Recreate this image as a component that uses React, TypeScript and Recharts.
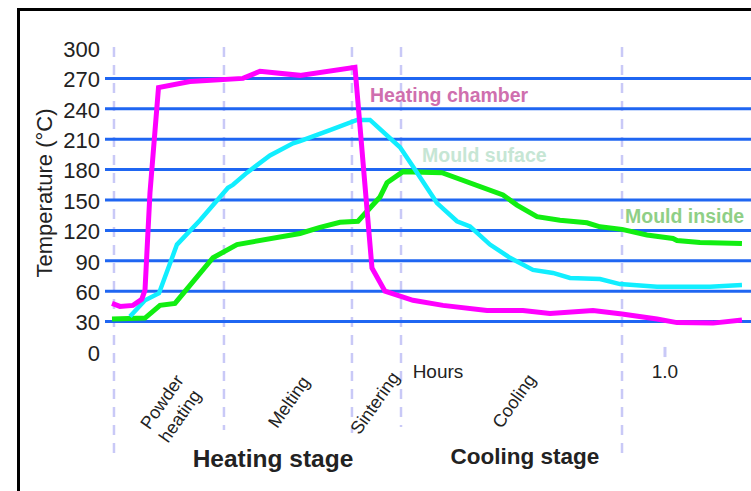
import React from 'react';
import { LineChart, Line, XAxis, YAxis, ReferenceLine } from 'recharts';

// ---- data (time in hours, temperature in °C) ----
const chamberTimes = [-0.0036, 0.0109, 0.0345, 0.0503, 0.0563, 0.0653, 0.0808, 0.1379, 0.2341, 0.265, 0.3376, 0.4374, 0.4682, 0.4918, 0.5426, 0.5971, 0.677, 0.7423, 0.7913, 0.8693, 0.922, 0.9855, 1.0218, 1.0871, 1.1397];
const chamberTemps = [48, 45, 46, 52, 61, 157, 261, 267, 270, 277, 273, 281, 83, 60, 51, 46, 41, 41, 38, 41, 37.5, 32.5, 29, 28.5, 31.5];

const surfaceTimes = [0.029, 0.0563, 0.0817, 0.1143, 0.1561, 0.2069, 0.216, 0.2414, 0.2831, 0.3249, 0.3376, 0.392, 0.441, 0.4646, 0.5191, 0.5426, 0.5862, 0.6225, 0.6461, 0.6824, 0.7187, 0.7604, 0.7967, 0.8276, 0.882, 0.9183, 0.9855, 1.0817, 1.1397];
const surfaceTemps = [35, 51, 58, 106, 130, 162, 165, 177, 194, 206, 208, 219, 229, 229, 202, 183, 147, 129, 124, 106, 93, 81, 78, 73, 72, 67, 64.5, 64.5, 66];

const insideTimes = [-0.0036, 0.0563, 0.0835, 0.1107, 0.1797, 0.2232, 0.3376, 0.3739, 0.4102, 0.4428, 0.4828, 0.4955, 0.5245, 0.5953, 0.706, 0.7314, 0.7677, 0.8094, 0.8584, 0.882, 0.922, 0.9673, 1.0145, 1.0218, 1.0635, 1.1397];
const insideTemps = [32.5, 33.5, 46, 48, 93, 106, 117, 123, 128, 129, 153, 167, 178, 177, 155, 145, 133.5, 130, 127.5, 123.5, 121, 115.5, 112, 110, 108, 107];

const yTicks = [0, 30, 60, 90, 120, 150, 180, 210, 240, 270, 300];
const gridValues = [30, 60, 90, 120, 150, 180, 210, 240, 270];
const xTickValues = [0.588, 1.0];
const xTickLabels = ['Hours', '1.0'];

// stage boundaries (hours) and how far below the axis each dashed line reaches (°C units)
const stageBoundaries = [0, 0.1996, 0.4319, 0.5209, 0.922];
const stageBoundaryBottoms = [-106, -77, -80, -74, -106];

const seriesNames = ['Heating chamber', 'Mould suface', 'Mould inside'];
const stageNames = ['Powder', 'heating', 'Melting', 'Sintering', 'Cooling'];
const stageGroupNames = ['Heating stage', 'Cooling stage'];

const toRows = (ts: number[], vs: number[]) => ts.map((t, i) => ({ t, v: vs[i] }));
const chamberData = toRows(chamberTimes, chamberTemps);
const surfaceData = toRows(surfaceTimes, surfaceTemps);
const insideData = toRows(insideTimes, insideTemps);

const FONT = 'Liberation Sans, Arial, Helvetica, sans-serif';
const GRID = '#1f66f2';
const DASH = '#c9c9f7';

export default function App() {
  return (
    <div style={{ position: 'absolute', left: 0, top: 0, width: 751, height: 491, overflow: 'hidden', background: '#fff', fontFamily: FONT }}>
      <div style={{ position: 'absolute', left: 0, top: 0 }}>
        <LineChart width={751} height={491} margin={{ top: 48, right: 0, bottom: 109, left: 0 }}>
          <XAxis
            type="number"
            dataKey="t"
            domain={[-0.0163, 1.1561]}
            allowDataOverflow
            ticks={xTickValues}
            tickFormatter={(v: number) => xTickLabels[xTickValues.indexOf(v)] ?? ''}
            axisLine={false}
            tickLine={false}
            tickSize={0}
            tickMargin={13}
            height={30}
            tick={{ fontSize: 19, fill: '#222', fontFamily: FONT }}
          />
          <YAxis
            type="number"
            domain={[0, 300]}
            ticks={yTicks}
            interval={0}
            axisLine={false}
            tickLine={false}
            tickSize={0}
            tickMargin={5}
            width={105}
            tick={{ fontSize: 22, fill: '#222', fontFamily: FONT, dy: 1 }}
          />
          {stageBoundaries.map((x, i) => (
            <ReferenceLine
              key={'d' + i}
              segment={[{ x, y: 301 }, { x, y: stageBoundaryBottoms[i] }]}
              stroke={DASH}
              strokeWidth={2.5}
              strokeDasharray="10 8"
              ifOverflow="visible"
            />
          ))}
          <ReferenceLine
            segment={[{ x: 1.0, y: 5 }, { x: 1.0, y: -5 }]}
            stroke={DASH}
            strokeWidth={3}
            ifOverflow="visible"
          />
          {gridValues.map((v) => (
            <ReferenceLine key={'g' + v} y={v} stroke={GRID} strokeWidth={3} />
          ))}
          <Line data={insideData} dataKey="v" type="linear" stroke="#11ee11" strokeWidth={5} dot={false} isAnimationActive={false} />
          <Line data={surfaceData} dataKey="v" type="linear" stroke="#11eeff" strokeWidth={4.5} dot={false} isAnimationActive={false} />
          <Line data={chamberData} dataKey="v" type="linear" stroke="#ff00ff" strokeWidth={5} dot={false} isAnimationActive={false} />
        </LineChart>
      </div>
      <svg width={751} height={491} style={{ position: 'absolute', left: 0, top: 0, pointerEvents: 'none' }} fontFamily={FONT}>
        <text x={52} y={193} transform="rotate(-90 52 193)" textAnchor="middle" fontSize={22} fill="#222">Temperature (°C)</text>
        <text x={370} y={102} fontSize={19.5} fontWeight="bold" fill="#cf6fae">{seriesNames[0]}</text>
        <text x={422} y={162} fontSize={19.5} fontWeight="bold" fill="#c6e6d4">{seriesNames[1]}</text>
        <text x={625} y={223} fontSize={19.5} fontWeight="bold" fill="#8fcf86">{seriesNames[2]}</text>
        <text x={162} y={402} transform="rotate(-55 162 402)" textAnchor="middle" dominantBaseline="central" fontSize={18} fill="#222">{stageNames[0]}</text>
        <text x={180} y={416} transform="rotate(-55 180 416)" textAnchor="middle" dominantBaseline="central" fontSize={18} fill="#222">{stageNames[1]}</text>
        <text x={289} y={402} transform="rotate(-55 289 402)" textAnchor="middle" dominantBaseline="central" fontSize={18} fill="#222">{stageNames[2]}</text>
        <text x={375} y={403} transform="rotate(-55 375 403)" textAnchor="middle" dominantBaseline="central" fontSize={18} fill="#222">{stageNames[3]}</text>
        <text x={514} y={401} transform="rotate(-55 514 401)" textAnchor="middle" dominantBaseline="central" fontSize={18} fill="#222">{stageNames[4]}</text>
        <text x={273} y={467} textAnchor="middle" fontSize={24.5} fontWeight="bold" fill="#222">{stageGroupNames[0]}</text>
        <text x={525} y={464} textAnchor="middle" fontSize={22.5} fontWeight="bold" fill="#222">{stageGroupNames[1]}</text>
      </svg>
      <div style={{ position: 'absolute', left: 17, top: 8, width: 800, height: 600, borderTop: '3px solid #000', borderLeft: '3px solid #000' }} />
    </div>
  );
}
